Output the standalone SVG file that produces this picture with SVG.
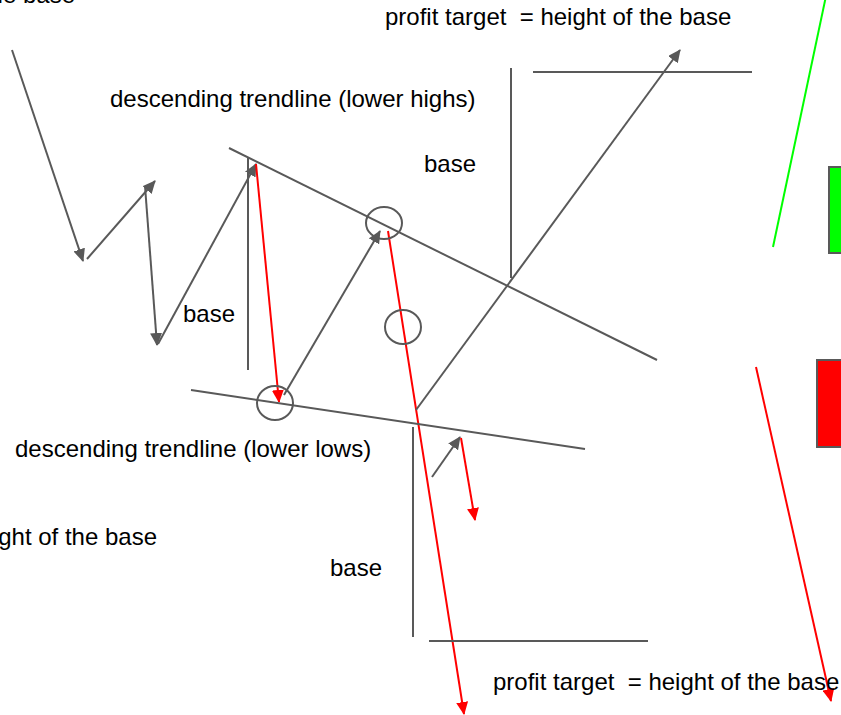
<svg xmlns="http://www.w3.org/2000/svg" width="841" height="715" viewBox="0 0 841 715">
<defs>
<marker id="ag" markerUnits="userSpaceOnUse" markerWidth="14" markerHeight="12" viewBox="0 0 14 12" refX="12" refY="6" orient="auto"><path d="M0,0 L13,6 L0,12 Z" fill="#595959"/></marker>
<marker id="ar" markerUnits="userSpaceOnUse" markerWidth="14" markerHeight="12" viewBox="0 0 14 12" refX="12" refY="6" orient="auto"><path d="M0,0 L13,6 L0,12 Z" fill="#ff0000"/></marker>
</defs>
<style>
.g{stroke:#595959;stroke-width:2;fill:none}
.r{stroke:#ff0000;stroke-width:2;fill:none}
.gn{stroke:#00ff00;stroke-width:2;fill:none}
.ga{stroke:#595959;stroke-width:2;fill:none;marker-end:url(#ag)}
.ra{stroke:#ff0000;stroke-width:2;fill:none;marker-end:url(#ar)}
text{font-family:"Liberation Sans",Arial,sans-serif;font-size:24px;fill:#000;white-space:pre}
</style>
<rect width="841" height="715" fill="#fff"/>
<g id="connectors">
<line class="ga" x1="12" y1="50" x2="83" y2="261"/>
<line class="ga" x1="87" y1="259" x2="155" y2="181"/>
<line class="ga" x1="145" y1="186" x2="157" y2="345"/>
<line class="ga" x1="158" y1="344" x2="256" y2="164"/>
<line class="g" x1="248" y1="157" x2="248" y2="370"/>
<line class="g" x1="229" y1="148" x2="657" y2="360"/>
<line class="ra" x1="256" y1="164" x2="279" y2="402"/>
<line class="ga" x1="284" y1="395" x2="380" y2="231"/>
<line class="ra" x1="388" y1="231" x2="464" y2="714"/>
<line class="g" x1="191" y1="390" x2="585" y2="449"/>
<line class="ga" x1="416" y1="410" x2="680" y2="50"/>
<line class="g" x1="511" y1="68" x2="511" y2="278"/>
<line class="g" x1="533" y1="72" x2="752" y2="72"/>
<line class="g" x1="413" y1="427" x2="413" y2="637"/>
<line class="g" x1="429" y1="641" x2="648" y2="641"/>
<line class="ga" x1="432" y1="477" x2="460" y2="437"/>
<line class="ra" x1="461" y1="438" x2="475" y2="520"/>
<line class="gn" x1="826" y1="-4" x2="773" y2="247"/>
<line class="ra" x1="756" y1="367" x2="831" y2="701"/>
</g>
<g id="circle1"><ellipse class="g" cx="275" cy="403" rx="18" ry="17"/></g>
<g id="circle2"><ellipse class="g" cx="384" cy="223" rx="18" ry="16"/></g>
<g id="circle3"><ellipse class="g" cx="403" cy="327" rx="18" ry="17"/></g>
<g id="green-candle"><rect x="829" y="167" width="20" height="86" fill="#00ff00" stroke="#595959" stroke-width="2"/></g>
<g id="red-candle"><rect x="817" y="360" width="30" height="87" fill="#ff0000" stroke="#595959" stroke-width="2"/></g>
<g id="labels">
<text x="75" y="3" text-anchor="end" xml:space="preserve">profit target  = height of the base</text>
<text x="385" y="25" xml:space="preserve">profit target  = height of the base</text>
<text x="110" y="107">descending trendline (lower highs)</text>
<text x="424" y="172">base</text>
<text x="183" y="322">base</text>
<text x="15" y="457">descending trendline (lower lows)</text>
<text x="157" y="545" text-anchor="end" xml:space="preserve">profit target  = height of the base</text>
<text x="330" y="576">base</text>
<text x="493" y="690" xml:space="preserve">profit target  = height of the base</text>
</g>
</svg>
